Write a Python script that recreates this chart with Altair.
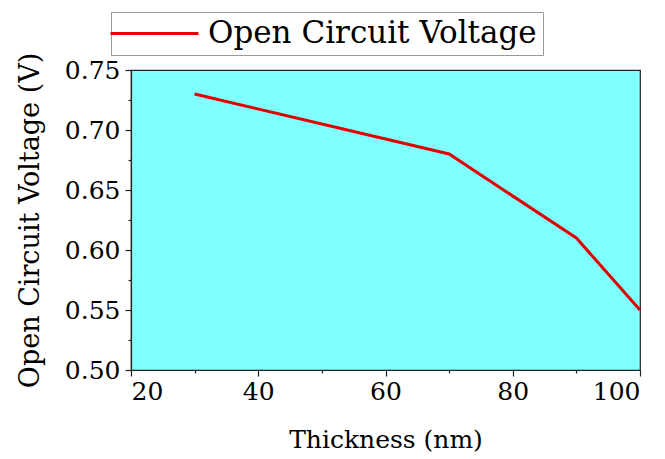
import altair as alt
import pandas as pd

thickness = [30, 70, 90, 100]
voc = [0.73, 0.68, 0.61, 0.55]
series_name = "Open Circuit Voltage"

df = pd.DataFrame({"thickness": thickness, "voc": voc, "series": [series_name] * len(thickness)})

FONT = "DejaVu Serif"

x_ticks = [20, 30, 40, 50, 60, 70, 80, 90, 100]
y_ticks = [0.5, 0.525, 0.55, 0.575, 0.6, 0.625, 0.65, 0.675, 0.7, 0.725, 0.75]

axis_common = dict(labelFont=FONT, labelFontSize=25, labelColor="#000",
                   titleFont=FONT, titleColor="#000", titleFontWeight="normal",
                   domainColor="#222", tickColor="#222", domainWidth=1.2, tickWidth=1.2,
                   labelOverlap=False, grid=False)

chart = alt.Chart(df).mark_line(strokeWidth=3).encode(
    x=alt.X("thickness:Q",
            scale=alt.Scale(domain=[20, 100], nice=False, zero=False),
            axis=alt.Axis(title="Thickness (nm)", values=x_ticks, format="d",
                          labelExpr="datum.value % 20 == 0 ? datum.label : ''",
                          tickSize={"condition": {"test": "datum.value % 20 == 0", "value": 6}, "value": 3},
                          labelPadding=3, titlePadding=23, titleFontSize=25, **axis_common)),
    y=alt.Y("voc:Q",
            scale=alt.Scale(domain=[0.5, 0.75], nice=False, zero=False),
            axis=alt.Axis(title="Open Circuit Voltage (V)", values=y_ticks, format=".2f",
                          labelExpr="round(datum.value*1000) % 50 == 0 ? datum.label : ''",
                          tickSize={"condition": {"test": "round(datum.value*1000) % 50 == 0", "value": 6}, "value": 3},
                          labelPadding=5, titlePadding=20, titleFontSize=27, **axis_common)),
    color=alt.Color("series:N", scale=alt.Scale(range=["#e00000"]),
                    legend=alt.Legend(title=None, orient="none", legendX=-20, legendY=-58,
                                      symbolType="M-2,0H6", symbolSize=484, symbolStrokeWidth=3,
                                      labelFont=FONT, labelFontSize=31, labelColor="#000",
                                      labelLimit=1000, labelOffset=60,
                                      strokeColor="#999", padding=6,
                                      fillColor="white")),
).properties(
    width=509, height=300,
    autosize=alt.AutoSizeParams(type="none"),
    padding={"left": 131, "top": 70, "right": 25, "bottom": 89},
).configure_view(
    fill="#80ffff", stroke="#222", strokeWidth=1.2
)

chart.save("out.html", embed_options={"renderer": "svg", "actions": False})
